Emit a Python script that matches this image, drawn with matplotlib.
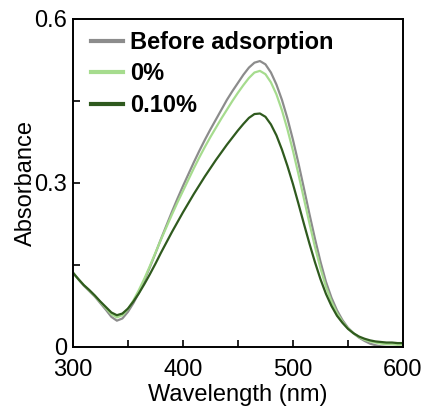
import numpy as np
import matplotlib
matplotlib.use("Agg")
import matplotlib.pyplot as plt
from matplotlib.ticker import MultipleLocator

matplotlib.rcParams["font.family"] = ["Liberation Sans", "DejaVu Sans"]

# Wavelength grid (nm) and absorbance.
wavelength = list(range(300, 601, 5))

before = [0.136, 0.124, 0.112, 0.102, 0.092, 0.080, 0.068, 0.055, 0.048, 0.052,
          0.064, 0.080, 0.099, 0.122, 0.146, 0.171, 0.197, 0.222, 0.247, 0.271,
          0.294, 0.316, 0.338, 0.359, 0.379, 0.398, 0.416, 0.434, 0.452, 0.468,
          0.483, 0.498, 0.511, 0.520, 0.523, 0.517, 0.502, 0.480, 0.452, 0.418,
          0.379, 0.336, 0.290, 0.243, 0.198, 0.156, 0.119, 0.090, 0.067, 0.049,
          0.035, 0.025, 0.017, 0.011, 0.006, 0.003, 0.001, 0.0, 0.0, 0.0, 0.0]

zero_pct = [0.136, 0.124, 0.113, 0.103, 0.093, 0.082, 0.071, 0.060, 0.054, 0.058,
            0.069, 0.085, 0.104, 0.125, 0.148, 0.172, 0.196, 0.219, 0.242, 0.264,
            0.285, 0.306, 0.327, 0.347, 0.366, 0.384, 0.401, 0.418, 0.434, 0.450,
            0.465, 0.479, 0.492, 0.502, 0.505, 0.499, 0.484, 0.462, 0.433, 0.398,
            0.359, 0.316, 0.271, 0.226, 0.183, 0.144, 0.110, 0.083, 0.062, 0.046,
            0.034, 0.025, 0.018, 0.013, 0.010, 0.008, 0.006, 0.005, 0.005, 0.004, 0.004]

pct_010 = [0.136, 0.124, 0.113, 0.104, 0.094, 0.083, 0.073, 0.063, 0.058, 0.061,
           0.070, 0.083, 0.098, 0.115, 0.133, 0.152, 0.172, 0.191, 0.210, 0.228,
           0.246, 0.263, 0.280, 0.296, 0.312, 0.327, 0.342, 0.356, 0.370, 0.383,
           0.396, 0.408, 0.419, 0.426, 0.427, 0.421, 0.407, 0.387, 0.361, 0.331,
           0.298, 0.262, 0.225, 0.189, 0.155, 0.124, 0.097, 0.075, 0.057, 0.044,
           0.033, 0.025, 0.019, 0.015, 0.012, 0.010, 0.009, 0.008, 0.008, 0.007, 0.007]

labels = ["Before adsorption", "0%", "0.10%"]
colors = ["#8c8c8c", "#a6dc8e", "#2f5a1e"]

fig = plt.figure(figsize=(4.26, 4.12), dpi=100)
ax = fig.add_axes([0.171, 0.158, 0.775, 0.796])

for y, lab, c in zip([before, zero_pct, pct_010], labels, colors):
    ax.plot(wavelength, y, color=c, lw=1.6, label=lab)

ax.set_xlim(300, 600)
ax.set_ylim(0, 0.6)
ax.set_xticks([300, 400, 500, 600])
ax.set_xticklabels(["300", "400", "500", "600"])
ax.xaxis.set_minor_locator(MultipleLocator(50))
ax.set_yticks([0, 0.3, 0.6])
ax.set_yticklabels(["0", "0.3", "0.6"])
ax.yaxis.set_minor_locator(MultipleLocator(0.15))
ax.tick_params(which="both", direction="in", labelsize=17, width=1.2, length=5)
ax.tick_params(axis="x", which="major", pad=9)
ax.tick_params(axis="y", which="major", pad=4)
for s in ax.spines.values():
    s.set_linewidth(1.4)

ax.set_xlabel("Wavelength (nm)", fontsize=17, labelpad=2)
ax.set_ylabel("Absorbance", fontsize=17, labelpad=-2)

leg = ax.legend(loc="upper left", bbox_to_anchor=(0.035, 0.985), frameon=False,
                handlelength=1.35, prop={"weight": "bold", "size": 17},
                labelspacing=0.36, handletextpad=0.3, borderpad=0.3,
                borderaxespad=0.0)
for h in leg.legend_handles:
    h.set_linewidth(3)

plt.savefig("out.png", dpi=100)
